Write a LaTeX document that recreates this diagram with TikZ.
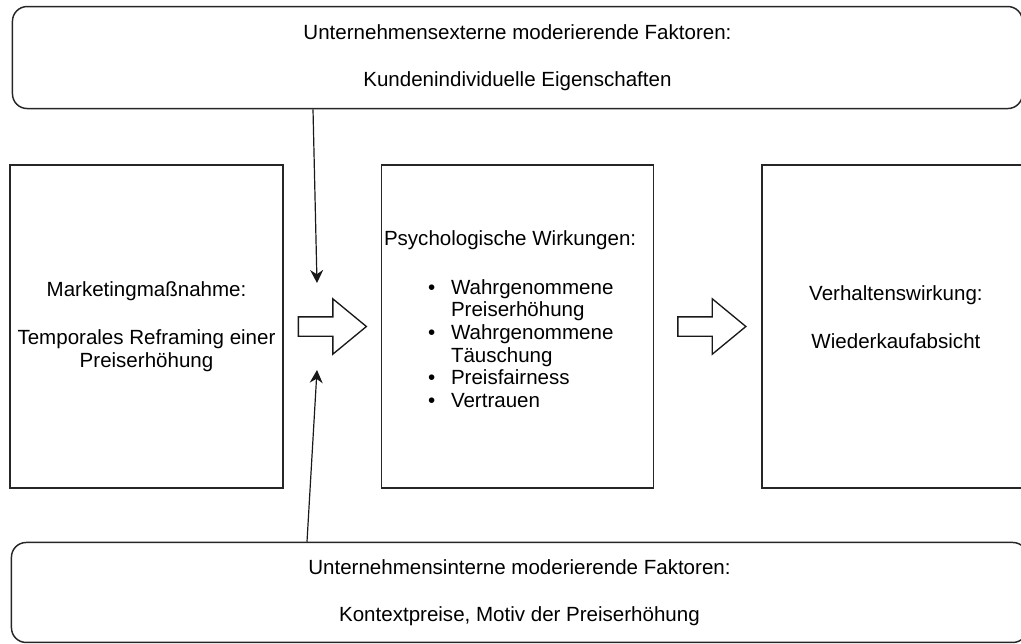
\documentclass[tikz,border=0pt]{standalone}
\usepackage{fontspec}
\setmainfont{Liberation Sans}
\usetikzlibrary{positioning,arrows.meta,shapes.arrows,calc}
\newcommand{\bul}[1]{\hspace*{33pt}\makebox[17.25pt][l]{\textbullet}#1}
\newcommand{\cnt}[1]{\hspace*{50.25pt}#1}
\tikzset{
  box/.style   = {draw=black!85, line width=1.1pt, align=center, minimum width=204.75pt,
                  minimum height=242.25pt, inner sep=0pt, font=\fontsize{15.4pt}{17.5pt}\selectfont},
  mod/.style   = {draw=black!85, line width=1.1pt, rounded corners=11pt, align=center,
                  minimum height=76.5pt, inner sep=0pt, font=\fontsize{15.4pt}{17.5pt}\selectfont},
  txt/.style   = {align=left, inner sep=0pt, font=\fontsize{15.4pt}{17pt}\selectfont},
  flow/.style  = {draw=black!90, line width=1pt, single arrow, single arrow tip angle=79,
                  single arrow head extend=13.5pt, inner xsep=0pt, inner ysep=6.75pt,
                  minimum height=51pt, anchor=tail},
  arrow/.style = {-{Stealth[length=9.75pt,width=9.75pt]}, line width=0.9pt, draw=black!90},
}
\begin{document}
\begin{tikzpicture}[x=0.75pt, y=-0.75pt]
  \useasboundingbox (0,0) rectangle (1021,643);
  \clip (0,0) rectangle (1021,643);
  \node[box] (mass) at (146.5,326.5) {Marketingmaßnahme:\\[18.5pt]Temporales Reframing einer\\Preiserhöhung};
  \node[box, minimum width=204pt, right=72.75pt of mass] (psy) {};
  \node[box, minimum width=201pt, right=80.25pt of psy] (verh) {};
  \node[txt, align=center] (verhtxt) at ([yshift=6.75pt]verh.center) {Verhaltenswirkung:\\[19pt]Wiederkaufabsicht};
  \node[txt, anchor=west] (psytxt) at ([xshift=2.25pt, yshift=5.6pt]psy.west)
    {Psychologische Wirkungen:\\[19.75pt]
     \bul{Wahrgenommene}\\ \cnt{Preiserhöhung}\\
     \bul{Wahrgenommene}\\ \cnt{Täuschung}\\
     \bul{Preisfairness}\\ \bul{Vertrauen}};
  \node[mod, minimum width=757.5pt, above=41.25pt of psy] (ext) {Unternehmensexterne moderierende Faktoren:\\[18pt]Kundenindividuelle Eigenschaften};
  \node[mod, minimum width=762pt, minimum height=75pt, below=39.75pt of psy, xshift=1.5pt] (int) {Unternehmensinterne moderierende Faktoren:\\[18pt]Kontextpreise, Motiv der Preiserhöhung};
  \node[flow] (f1) at ([xshift=10.5pt]mass.east) {};
  \node[flow] (f2) at ([xshift=17.25pt]psy.east) {};
  \coordinate (extin) at (317,283);
  \coordinate (intin) at (317,370);
  \draw[arrow] ([xshift=-3pt]ext.south -| extin) -- (extin);
  \draw[arrow] ([xshift=-7.5pt]int.north -| intin) -- (intin);
\end{tikzpicture}
\end{document}
